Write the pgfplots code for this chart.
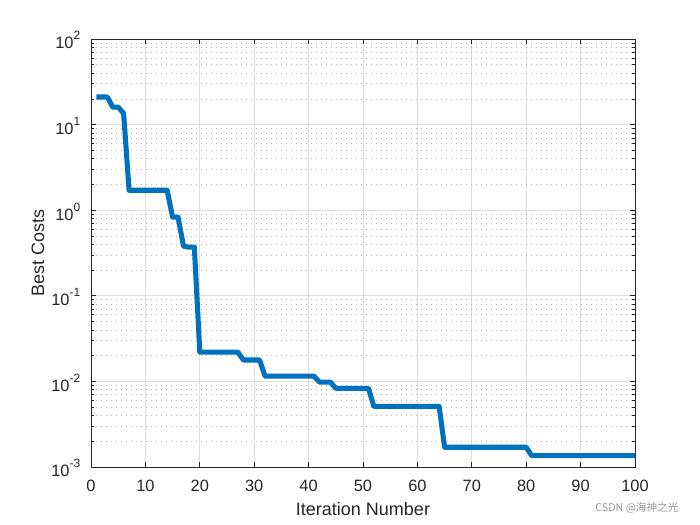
\documentclass[border=0pt]{standalone}
\usepackage{fontspec}
\setmainfont{Liberation Sans}
\newfontfamily\cjk{Noto Sans CJK SC}
\usepackage{pgfplots}
\pgfplotsset{compat=1.18}
\definecolor{mblue}{RGB}{0,114,189}
\definecolor{axgray}{RGB}{38,38,38}
\definecolor{gridgray}{RGB}{222,222,222}
\definecolor{minorgray}{RGB}{180,180,180}

\begin{document}
\begin{tikzpicture}[x=0.75pt,y=0.75pt]
\path[use as bounding box] (-91,-58) rectangle (609,467);
\begin{axis}[
  at={(0,0)}, anchor=south west,
  scale only axis, width=408pt, height=321pt,
  xmin=0, xmax=100, ymode=log, log basis y=10, ymin=1e-3, ymax=1e2,
  xtick={0,10,...,100},
  ytick={1e-3,1e-2,1e-1,1,1e1,1e2},
  minor ytick={2e-3,3e-3,4e-3,5e-3,6e-3,7e-3,8e-3,9e-3,
               2e-2,3e-2,4e-2,5e-2,6e-2,7e-2,8e-2,9e-2,
               0.2,0.3,0.4,0.5,0.6,0.7,0.8,0.9,
               2,3,4,5,6,7,8,9,20,30,40,50,60,70,80,90},
  yticklabel={\pgfmathtruncatemacro\e{\tick}10\raisebox{0.55em}{\fontsize{9}{10}\selectfont\e}},
  /pgf/number format/assume math mode=true,
  xmajorgrids, ymajorgrids, yminorgrids,
  major grid style={gridgray, line width=0.5pt},
  minor grid style={minorgray, line width=0.5pt, dash pattern=on 0.75pt off 3pt},
  tick align=inside, tick pos=both,
  major tick length=4pt, minor tick length=2.2pt,
  axis line style={axgray, line width=0.5pt},
  every tick/.style={axgray, line width=0.5pt},
  tick label style={font=\fontsize{12.3}{14}\selectfont, text=axgray},
  xticklabel style={yshift=-6pt},
  yticklabel style={xshift=-4.5pt, yshift=-1pt},
  label style={font=\fontsize{13.5}{16}\selectfont, text=axgray},
  xlabel={Iteration Number}, ylabel={Best Costs},
  xlabel style={at={(axis description cs:0.5,-0.098)}, anchor=center},
  ylabel style={at={(axis description cs:-0.0974,0.5)}, anchor=center},
]
\addplot[mblue, line width=3.8pt, line join=round] coordinates {
(1,21) (2,21) (3,21) (4,16) (5,16) (6,13.5) (7,1.71) (8,1.71) (9,1.71) (10,1.71)
(11,1.71) (12,1.71) (13,1.71) (14,1.71) (15,0.83) (16,0.83) (17,0.38) (18,0.37) (19,0.37)
(20,0.022) (21,0.022) (22,0.022) (23,0.022) (24,0.022) (25,0.022) (26,0.022) (27,0.022)
(28,0.0178) (29,0.0178) (30,0.0178) (31,0.0178)
(32,0.0115) (33,0.0115) (34,0.0115) (35,0.0115) (36,0.0115) (37,0.0115) (38,0.0115) (39,0.0115) (40,0.0115) (41,0.0115)
(42,0.0098) (43,0.0098) (44,0.0098)
(45,0.0083) (46,0.0083) (47,0.0083) (48,0.0083) (49,0.0083) (50,0.0083) (51,0.0083)
(52,0.0051) (53,0.0051) (54,0.0051) (55,0.0051) (56,0.0051) (57,0.0051) (58,0.0051) (59,0.0051) (60,0.0051) (61,0.0051) (62,0.0051) (63,0.0051) (64,0.0051)
(65,0.0017) (66,0.0017) (67,0.0017) (68,0.0017) (69,0.0017) (70,0.0017) (71,0.0017) (72,0.0017) (73,0.0017) (74,0.0017) (75,0.0017) (76,0.0017) (77,0.0017) (78,0.0017) (79,0.0017) (80,0.0017)
(81,0.00136) (82,0.00136) (83,0.00136) (84,0.00136) (85,0.00136) (86,0.00136) (87,0.00136) (88,0.00136) (89,0.00136) (90,0.00136)
(91,0.00136) (92,0.00136) (93,0.00136) (94,0.00136) (95,0.00136) (96,0.00136) (97,0.00136) (98,0.00136) (99,0.00136) (100,0.00136)
};
\end{axis}
\node[text=gray!80, font=\cjk\fontsize{8}{10}\selectfont] at (546,-41) {CSDN @海神之光};
\end{tikzpicture}
\end{document}
